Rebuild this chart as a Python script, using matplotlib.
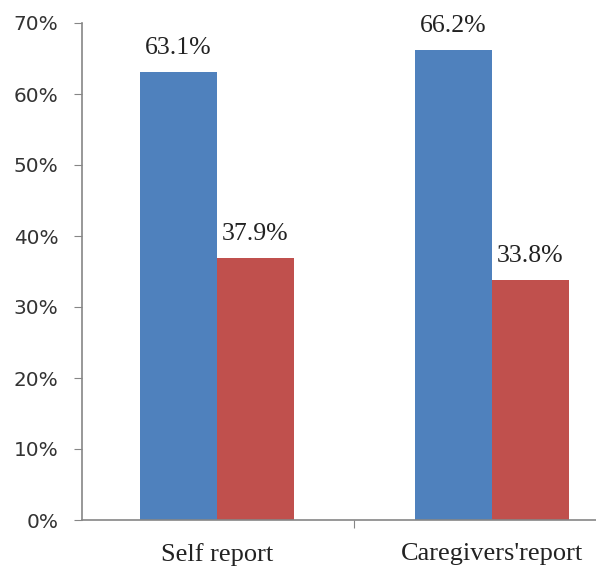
import numpy as np
import matplotlib
matplotlib.use("Agg")
import matplotlib.pyplot as plt

categories = ["Self report", "Caregivers'report"]
blue_vals = [63.1, 66.2]
red_vals = [36.9, 33.8]
blue_labels = ["63.1%", "66.2%"]
red_labels = ["37.9%", "33.8%"]
yticks = [0, 10, 20, 30, 40, 50, 60, 70]

fig = plt.figure(figsize=(5.96, 5.67), dpi=100)
ax = fig.add_axes([82 / 596, 47 / 567, 1 - 82 / 596, (520 - 23) / 567])

x = np.arange(len(categories))
w = 0.28
b1 = ax.bar(x - w / 2, blue_vals, w, color="#4F81BD")
b2 = ax.bar(x + w / 2, red_vals, w, color="#C0504D")

for bars, labels in ((b1, blue_labels), (b2, red_labels)):
    for rect, lab in zip(bars, labels):
        ax.annotate(lab, (rect.get_x() + rect.get_width() / 2, rect.get_height()),
                    xytext=(0, 13), textcoords="offset points",
                    ha="center", va="baseline",
                    family="Liberation Serif", fontsize=18.5, color="#222222")

ax.set_xlim(-0.49, 1.38)
ax.set_ylim(0, 70)
ax.set_yticks(yticks)
ax.set_yticklabels([f"{t}%" for t in yticks], fontsize=14.4, color="#333333")
ax.tick_params(axis="y", length=6, pad=11, color="#868686")

ax.set_xticks([0.5], minor=False)
ax.set_xticklabels([""])
ax.tick_params(axis="x", length=6, color="#868686")
for xi, cat in zip(x, categories):
    ax.text(xi, -3.2, cat, ha="center", va="top", family="Liberation Serif",
            fontsize=19, color="#222222", transform=ax.transData, clip_on=False)

for s in ("top", "right"):
    ax.spines[s].set_visible(False)
for s in ("left", "bottom"):
    ax.spines[s].set_color("#868686")
    ax.spines[s].set_linewidth(1.2)

fig.savefig("out.png", dpi=100)
